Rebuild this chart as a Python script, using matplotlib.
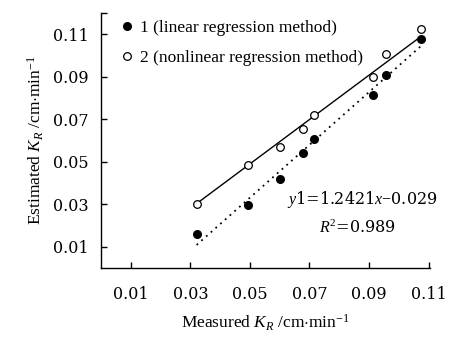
import numpy as np
import matplotlib
matplotlib.use("Agg")
import matplotlib.pyplot as plt

measured = [0.0321, 0.0495, 0.0602, 0.0679, 0.0714, 0.0912, 0.0958, 0.1075]
est_linear = [0.0160, 0.0295, 0.0419, 0.0541, 0.0609, 0.0815, 0.0909, 0.1077]
est_nonlinear = [0.0303, 0.0486, 0.0570, 0.0653, 0.0722, 0.0900, 0.1007, 0.1127]

fit1 = (1.2421, -0.029)   # linear regression method
fit2 = (1.044, -0.0032)   # nonlinear regression method

xticks = [0.01, 0.03, 0.05, 0.07, 0.09, 0.11]
yticks = [0.01, 0.03, 0.05, 0.07, 0.09, 0.11, 0.12]
ytick_labels = ["0.01", "0.03", "0.05", "0.07", "0.09", "0.11", ""]

plt.rcParams['font.family'] = ['Liberation Serif', 'DejaVu Serif']
plt.rcParams['mathtext.fontset'] = 'custom'
plt.rcParams['mathtext.rm'] = 'Liberation Serif'
plt.rcParams['mathtext.it'] = 'Liberation Serif:italic'

fig = plt.figure(figsize=(4.52, 3.38), dpi=100)
ax = fig.add_axes([0.2235, 0.207, 0.728, 0.7545])

xl = np.array([min(measured), max(measured)])
ax.plot(xl, fit2[0] * xl + fit2[1], color='black', lw=1.0, ls='-')
ax.plot(xl, fit1[0] * xl + fit1[1], color='black', lw=1.3, ls=(0, (1, 2.5)))

ax.plot(measured, est_linear, 'o', color='black', ms=5.5, mfc='black',
        label='1 (linear regression method)')
ax.plot(measured, est_nonlinear, 'o', color='black', ms=5.5, mfc='white', mew=0.9,
        label='2 (nonlinear regression method)')

ax.set_xlim(0.0, 0.1105)
ax.set_ylim(0.0, 0.12)
ax.set_xticks(xticks)
ax.set_xticklabels([f"{v:.2f}" for v in xticks], fontfamily='DejaVu Serif')
ax.set_yticks(yticks)
ax.set_yticklabels(ytick_labels, fontfamily='DejaVu Serif')

for s in ['top', 'right']:
    ax.spines[s].set_visible(False)
for s in ['left', 'bottom']:
    ax.spines[s].set_linewidth(1.0)

ax.tick_params(axis='x', direction='in', length=4, width=1, pad=13, labelsize=11.5)
ax.tick_params(axis='y', direction='in', length=4, width=1, pad=9, labelsize=11.5)

leg = ax.legend(loc='upper left', bbox_to_anchor=(0.03, 1.0), frameon=False,
                fontsize=12.5, handletextpad=0.25, handlelength=1.0,
                borderaxespad=0.0, labelspacing=0.8)

ax.text(0.0625, 0.0323, r"$y$1=1.2421$x$$-$0.029", fontsize=11.5, ha='left', va='center',
        fontfamily='DejaVu Serif')
ax.text(0.0861, 0.0189, r"$R^2$=0.989", fontsize=11.5, ha='center', va='center',
        fontfamily='DejaVu Serif')

ax.set_xlabel(r"Measured $K_R$ /cm$\cdot$min$^{-1}$", fontsize=12.5, labelpad=7)
ax.set_ylabel(r"Estimated $K_R$ /cm$\cdot$min$^{-1}$", fontsize=12.5, labelpad=5)

fig.savefig("out.png", dpi=100)
